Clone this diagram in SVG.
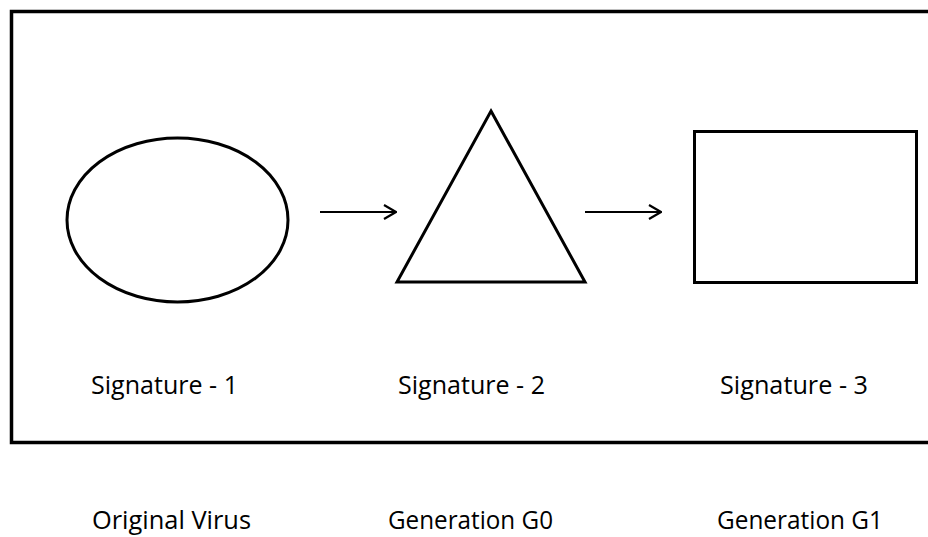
<svg xmlns="http://www.w3.org/2000/svg" width="928" height="537" viewBox="0 0 928 537">
  <style>
    .shape { fill: none; stroke: #000; stroke-width: 3; }
    .frame { fill: none; stroke: #000; stroke-width: 3.5; }
    .conn { fill: none; stroke: #000; stroke-width: 2; }
    .label { font-family: "Open Sans", "Noto Sans", sans-serif; font-size: 25px; fill: #000; }
  </style>
  <defs>
    <marker id="chevron" viewBox="0 0 14 16" refX="13" refY="8" markerWidth="14" markerHeight="16" markerUnits="userSpaceOnUse" orient="auto">
      <path d="M1,1 L13,8 L1,15" fill="none" stroke="#000" stroke-width="2.2"/>
    </marker>
  </defs>
  <rect width="928" height="537" fill="#fff"/>

  <!-- outer frame, open on the right edge -->
  <path class="frame" d="M930,11.5 H11.5 V442.5 H930"/>

  <g id="original-virus">
    <ellipse class="shape" cx="177.5" cy="220" rx="110.5" ry="82"/>
    <text class="label" x="91" y="394" textLength="147" lengthAdjust="spacingAndGlyphs">Signature - 1</text>
    <text class="label" x="92" y="529" textLength="159" lengthAdjust="spacingAndGlyphs">Original Virus</text>
  </g>

  <g id="generation-g0">
    <polygon class="shape" points="491,111 585,282 397,282"/>
    <text class="label" x="398" y="394" textLength="147" lengthAdjust="spacingAndGlyphs">Signature - 2</text>
    <text class="label" x="388" y="529" textLength="165" lengthAdjust="spacingAndGlyphs">Generation G0</text>
  </g>

  <g id="generation-g1">
    <rect class="shape" x="694.5" y="131.5" width="222" height="151"/>
    <text class="label" x="720" y="394" textLength="148" lengthAdjust="spacingAndGlyphs">Signature - 3</text>
    <text class="label" x="717" y="529" textLength="166" lengthAdjust="spacingAndGlyphs">Generation G1</text>
  </g>

  <g id="connectors">
    <line class="conn" x1="320" y1="212" x2="396" y2="212" marker-end="url(#chevron)"/>
    <line class="conn" x1="585" y1="212" x2="661" y2="212" marker-end="url(#chevron)"/>
  </g>
</svg>
